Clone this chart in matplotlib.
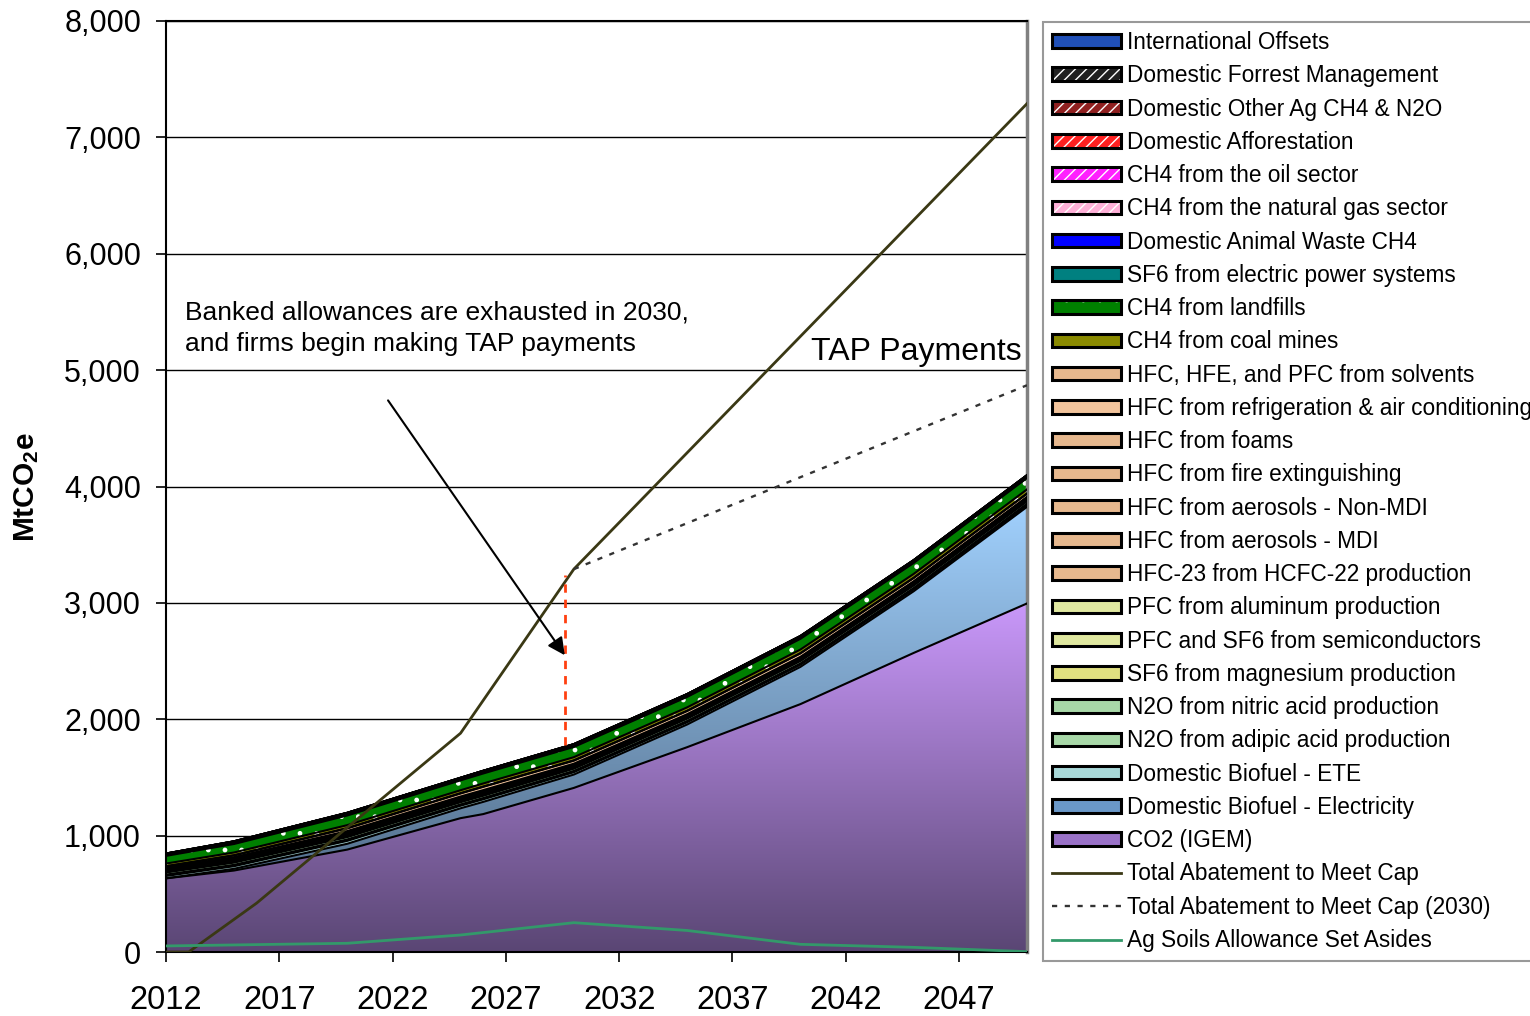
import numpy as np
import matplotlib
matplotlib.use("Agg")
import matplotlib.pyplot as plt
from matplotlib.patches import Patch
from matplotlib.lines import Line2D
from matplotlib.colors import LinearSegmentedColormap
from matplotlib.legend_handler import HandlerTuple

plt.rcParams['font.family'] = ['Liberation Sans', 'DejaVu Sans']
plt.rcParams['mathtext.fontset'] = 'custom'
plt.rcParams['mathtext.rm'] = 'Liberation Sans'
plt.rcParams['mathtext.bf'] = 'Liberation Sans:bold'
plt.rcParams['hatch.linewidth'] = 1.0
plt.rcParams['hatch.color'] = 'white'

# ---------------- data (MtCO2e) ----------------
years = [2012, 2015, 2020, 2025, 2026, 2030, 2035, 2040, 2045, 2050]

co2_igem        = [633, 700, 880, 1150, 1185, 1410, 1760, 2130, 2570, 2995]
bio_electricity = [0, 15, 50, 85, 105, 115, 195, 320, 530, 830]
bio_ete         = [20, 22, 25, 22, 22, 20, 19, 18, 16, 15]
n2o_adipic      = [12, 12, 12, 11, 11, 11, 11, 11, 12, 12]
n2o_nitric      = [18, 19, 20, 19, 19, 19, 20, 21, 21, 20]
sf6_magnesium   = [6, 6, 7, 7, 7, 7, 7, 7, 8, 8]
pfc_semicond    = [6, 7, 7, 7, 7, 7, 7, 8, 8, 8]
pfc_aluminum    = [8, 9, 9, 9, 9, 8, 8, 8, 8, 10]
hfc23           = [8, 9, 10, 7, 7, 4, 3, 2, 2, 2]
hfc_aer_mdi     = [2, 2, 2, 2, 2, 2, 1, 1, 1, 1]
hfc_aer_nonmdi  = [3, 4, 4, 4, 4, 3, 3, 2, 2, 2]
hfc_fire        = [3, 3, 4, 4, 4, 4, 3, 3, 3, 3]
hfc_foams       = [6, 7, 9, 9, 9, 8, 6, 5, 4, 4]
hfc_refrig      = [10, 14, 23, 26, 28, 26, 28, 30, 29, 28]
hfc_solvents    = [3, 3, 3, 3, 3, 3, 2, 2, 2, 2]
ch4_coal        = [22, 23, 25, 25, 26, 27, 29, 31, 33, 35]
ch4_landfills   = [66, 73, 83, 85, 86, 88, 90, 92, 94, 98]
sf6_electric    = [8, 8, 8, 8, 8, 8, 8, 8, 8, 8]
animal_waste    = [4, 4, 4, 4, 4, 5, 5, 5, 5, 5]
ch4_natgas      = [6, 8, 8, 7, 8, 8, 8, 8, 8, 8]
ch4_oil         = [2, 3, 3, 3, 3, 3, 3, 3, 3, 3]
afforestation   = [0, 0, 0, 0, 0, 0, 0, 0, 0, 0]
other_ag        = [0, 0, 0, 0, 0, 0, 0, 0, 0, 0]
forest_mgmt     = [0, 0, 0, 0, 0, 0, 0, 0, 0, 0]
intl_offsets    = [0, 0, 0, 0, 0, 0, 0, 0, 0, 0]

abate_years = [2012, 2013, 2016, 2020, 2025, 2030, 2040, 2050]
abate_total = [0, 0, 420, 1070, 1880, 3290, 5290, 7290]
abate2030_years = [2030, 2050]
abate2030_total = [3290, 4870]
agsoil_years = [2012, 2020, 2025, 2030, 2035, 2040, 2045, 2050]
agsoil_vals  = [52, 75, 146, 252, 185, 66, 40, 3]

exhaust_year = 2029.6
exhaust_range = [1780, 3240]
arrow_from = (2021.8, 4740)
arrow_to = (2029.6, 2550)

xticks = [2012, 2017, 2022, 2027, 2032, 2037, 2042, 2047]
yticks = [0, 1000, 2000, 3000, 4000, 5000, 6000, 7000, 8000]

# (label, values, color, hatch, gradient) bottom -> top
layers = [
    ("CO2 (IGEM)", co2_igem, "#9a72c8", None, ("#5a4674", "#c998fa", 0, 3000)),
    ("Domestic Biofuel - Electricity", bio_electricity, "#6a98c8", None, ("#465e78", "#a2d2ff", 0, 3900)),
    ("Domestic Biofuel - ETE", bio_ete, "#a8d8d8", None, None),
    ("N2O from adipic acid production", n2o_adipic, "#a8d8a8", None, None),
    ("N2O from nitric acid production", n2o_nitric, "#a8d8a8", None, None),
    ("SF6 from magnesium production", sf6_magnesium, "#e0e080", None, None),
    ("PFC and SF6 from semiconductors", pfc_semicond, "#e0e8a0", None, None),
    ("PFC from aluminum production", pfc_aluminum, "#e0e8a0", None, None),
    ("HFC-23 from HCFC-22 production", hfc23, "#e6b88e", None, None),
    ("HFC from aerosols - MDI", hfc_aer_mdi, "#e6b88e", None, None),
    ("HFC from aerosols - Non-MDI", hfc_aer_nonmdi, "#e6b88e", None, None),
    ("HFC from fire extinguishing", hfc_fire, "#e6b88e", None, None),
    ("HFC from foams", hfc_foams, "#e6b88e", None, None),
    ("HFC from refrigeration & air conditioning", hfc_refrig, "#f2c49c", None, None),
    ("HFC, HFE, and PFC from solvents", hfc_solvents, "#e6b88e", None, None),
    ("CH4 from coal mines", ch4_coal, "#8a8a00", ".", None),
    ("CH4 from landfills", ch4_landfills, "#008000", ".", None),
    ("SF6 from electric power systems", sf6_electric, "#008080", ".", None),
    ("Domestic Animal Waste CH4", animal_waste, "#0000ff", ".", None),
    ("CH4 from the natural gas sector", ch4_natgas, "#ffb0d8", "///", None),
    ("CH4 from the oil sector", ch4_oil, "#ff20ff", "///", None),
    ("Domestic Afforestation", afforestation, "#ff2020", "///", None),
    ("Domestic Other Ag CH4 & N2O", other_ag, "#902020", "///", None),
    ("Domestic Forrest Management", forest_mgmt, "#202020", "///", None),
    ("International Offsets", intl_offsets, "#2050b8", None, None),
]

W, H = 1530, 1016
fig = plt.figure(figsize=(W / 100, H / 100), dpi=100)
ax = fig.add_axes([166 / W, 1 - 952 / H, (1027 - 166) / W, (952 - 21) / H])

x = np.array(years, dtype=float)
base = np.zeros(len(years))
tops = []
for label, vals, color, hatch, grad in layers:
    top = base + np.array(vals, dtype=float)
    if grad is not None:
        c0, c1, v0, v1 = grad
        poly = ax.fill_between(x, base, top, facecolor="none", lw=0, zorder=2)
        cmap = LinearSegmentedColormap.from_list(label, [c0, c1])
        g = np.linspace(0, 1, 256).reshape(-1, 1)
        im = ax.imshow(g, cmap=cmap, origin="lower", aspect="auto",
                       extent=[years[0], years[-1], v0, v1], zorder=2,
                       interpolation="bilinear")
        im.set_clip_path(poly.get_paths()[0], transform=ax.transData)
    else:
        ax.fill_between(x, base, top, facecolor=color,
                        edgecolor=("white" if hatch else "none"),
                        hatch=hatch, lw=0, zorder=2)
    tops.append(top)
    base = top
for top in tops:
    ax.plot(x, top, color="black", lw=1.5, zorder=3, solid_joinstyle="round")

# lines
ax.plot(abate_years, abate_total, color="#3a3814", lw=2.0, zorder=5)
ax.plot(abate2030_years, abate2030_total, color="#333333", lw=1.7,
        dashes=(2.2, 3.2), zorder=5)
ax.plot(agsoil_years, agsoil_vals, color="#33996a", lw=2.0, zorder=5)

# annotations
ax.plot([exhaust_year, exhaust_year], exhaust_range, color="#ff4010",
        lw=2, dashes=(3, 2.5), zorder=5)
ax.annotate("", xy=arrow_to, xytext=arrow_from,
            arrowprops=dict(arrowstyle="-|>", color="black", lw=1.5,
                            mutation_scale=26, shrinkA=0, shrinkB=0),
            zorder=6)
ax.text(2012.85, 5600, "Banked allowances are exhausted in 2030,\nand firms begin making TAP payments",
        fontsize=19, ha="left", va="top", linespacing=1.42, zorder=6)
ax.text(2049.75, 5160, "TAP Payments", fontsize=23, ha="right", va="center", zorder=6)

# axes
ax.set_xlim(2012, 2050)
ax.set_ylim(0, 8000)
ax.set_xticks(xticks)
ax.set_xticklabels([str(t) for t in xticks])
ax.set_yticks(yticks)
ax.set_yticklabels([f"{t:,}" for t in yticks])
ax.tick_params(axis="x", direction="out", length=7, width=1.2, labelsize=23.5, pad=17)
ax.tick_params(axis="y", direction="out", length=7, width=1.2, labelsize=22, pad=11)
ax.set_axisbelow(True)
ax.yaxis.grid(True, color="black", lw=1.0)
ax.xaxis.grid(False)
for s in ["left", "bottom", "top"]:
    ax.spines[s].set_color("black")
    ax.spines[s].set_linewidth(1.5)
ax.spines["right"].set_color("#808080")
ax.spines["right"].set_linewidth(2.5)

fig.text(27 / W, 1 - 487 / H, r"$\mathbf{MtCO_2e}$", rotation=90,
         fontsize=21.5, ha="center", va="center")

# legend
handles, labels = [], []
for label, vals, color, hatch, grad in reversed(layers):
    fc = color
    if hatch:
        h = (Patch(facecolor=fc, edgecolor="white", hatch=hatch, lw=0),
             Patch(facecolor="none", edgecolor="black", lw=2.2))
    else:
        h = Patch(facecolor=fc, edgecolor="black", lw=2.2)
    handles.append(h)
    labels.append(label)
handles += [Line2D([], [], color="#3a3814", lw=2),
            Line2D([], [], color="#333333", lw=1.7, dashes=(2.2, 3.2)),
            Line2D([], [], color="#33996a", lw=2)]
labels += ["Total Abatement to Meet Cap", "Total Abatement to Meet Cap (2030)",
           "Ag Soils Allowance Set Asides"]
leg = fig.legend(handles, labels, loc="upper left",
                 bbox_to_anchor=(1043 / W, 1 - 22 / H), bbox_transform=fig.transFigure,
                 fontsize=16.3, frameon=True, fancybox=False, edgecolor="#808080",
                 handlelength=3.05, handleheight=0.55, handletextpad=0.25,
                 labelspacing=0.453, borderpad=0.4, borderaxespad=0,
                 handler_map={tuple: HandlerTuple(ndivide=1, pad=0)})
leg.get_frame().set_linewidth(1.5)

fig.savefig("out.png", dpi=100, facecolor="white")
